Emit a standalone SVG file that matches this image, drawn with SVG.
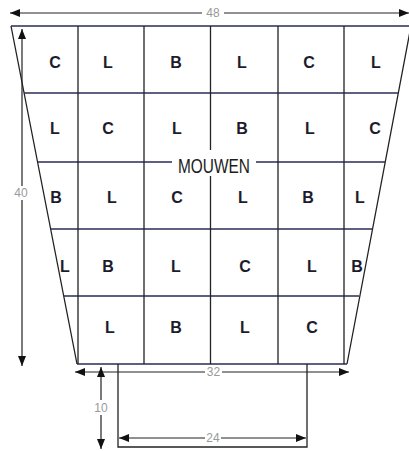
<svg xmlns="http://www.w3.org/2000/svg" width="409" height="451" viewBox="0 0 409 451">
<defs>
<marker id="ah" viewBox="0 0 10 8" refX="10" refY="4" markerWidth="10" markerHeight="8" markerUnits="userSpaceOnUse" orient="auto-start-reverse">
<path d="M0,0 L10,4 L0,8 Z" fill="#111"/>
</marker>
<style>
.ln{stroke:#222;stroke-width:1.3;fill:none}
.hl{stroke:#2a2a55;stroke-width:1.6;fill:none}
.dim{stroke:#222;stroke-width:1.2;fill:none}
.c{font-family:"Liberation Sans",Arial,sans-serif;font-weight:bold;font-size:16px;fill:#1c1c2c;text-anchor:middle}
.n{font-family:"Liberation Sans",Arial,sans-serif;font-size:12px;fill:#999;text-anchor:middle}
.t{font-family:"Liberation Sans",Arial,sans-serif;font-size:21px;fill:#1c1c1c;text-anchor:middle}
</style>
</defs>
<rect width="409" height="451" fill="#fff"/>
<g id="connectors">
<path class="ln" d="M11,26 L77,364 M411,26 L347,364"/>
<line class="hl" x1="11" y1="26" x2="409" y2="26"/>
<line class="hl" x1="24" y1="93" x2="398" y2="93"/>
<line class="hl" x1="37.5" y1="162" x2="385" y2="162"/>
<line class="hl" x1="50.5" y1="229" x2="372" y2="229"/>
<line class="hl" x1="63.5" y1="296" x2="359" y2="296"/>
<line class="hl" x1="77" y1="364" x2="347" y2="364"/>
<path class="ln" d="M78,26 V364 M144,26 V364 M210.5,26 V364 M278,26 V364 M344,26 V364"/>
<path class="ln" d="M118,364 V447 H307 V364"/>
<line class="dim" x1="202" y1="13" x2="10" y2="13" marker-end="url(#ah)"/>
<line class="dim" x1="224" y1="13" x2="409" y2="13" marker-end="url(#ah)"/>
<line class="dim" x1="22" y1="186" x2="22" y2="29" marker-end="url(#ah)"/>
<line class="dim" x1="22" y1="200" x2="22" y2="366" marker-end="url(#ah)"/>
<line class="dim" x1="205" y1="372" x2="75" y2="372" marker-end="url(#ah)"/>
<line class="dim" x1="222" y1="372" x2="349" y2="372" marker-end="url(#ah)"/>
<line class="dim" x1="101" y1="400" x2="101" y2="367" marker-end="url(#ah)"/>
<line class="dim" x1="101" y1="415" x2="101" y2="449" marker-end="url(#ah)"/>
<line class="dim" x1="205" y1="438" x2="119" y2="438" marker-end="url(#ah)"/>
<line class="dim" x1="221" y1="438" x2="306" y2="438" marker-end="url(#ah)"/>
</g>
<g id="dimension-labels">
<text class="n" x="213" y="17">48</text>
<text class="n" x="21" y="197">40</text>
<text class="n" x="213.5" y="376">32</text>
<text class="n" x="101" y="411.5">10</text>
<text class="n" x="213" y="442">24</text>
</g>
<g id="mouwen">
<rect x="172" y="150" width="84" height="26" fill="#fff"/>
<text class="t" x="214" y="173" textLength="72" lengthAdjust="spacingAndGlyphs">MOUWEN</text>
</g>
<g id="row1">
<text class="c" x="55" y="67.5">C</text>
<text class="c" x="108" y="67.5">L</text>
<text class="c" x="176" y="67.5">B</text>
<text class="c" x="242" y="67.5">L</text>
<text class="c" x="309" y="67.5">C</text>
<text class="c" x="376" y="67.5">L</text>
</g>
<g id="row2">
<text class="c" x="55" y="134">L</text>
<text class="c" x="108" y="134">C</text>
<text class="c" x="177" y="134">L</text>
<text class="c" x="242" y="134">B</text>
<text class="c" x="310" y="134">L</text>
<text class="c" x="375" y="134">C</text>
</g>
<g id="row3">
<text class="c" x="56" y="202.5">B</text>
<text class="c" x="112" y="202.5">L</text>
<text class="c" x="177" y="202.5">C</text>
<text class="c" x="243" y="202.5">L</text>
<text class="c" x="308" y="202.5">B</text>
<text class="c" x="360" y="202.5">L</text>
</g>
<g id="row4">
<text class="c" x="65" y="271.5">L</text>
<text class="c" x="108" y="271.5">B</text>
<text class="c" x="176" y="271.5">L</text>
<text class="c" x="245" y="271.5">C</text>
<text class="c" x="312" y="271.5">L</text>
<text class="c" x="357" y="271.5">B</text>
</g>
<g id="row5">
<text class="c" x="110" y="333">L</text>
<text class="c" x="176" y="333">B</text>
<text class="c" x="245" y="333">L</text>
<text class="c" x="312" y="333">C</text>
</g>
</svg>
